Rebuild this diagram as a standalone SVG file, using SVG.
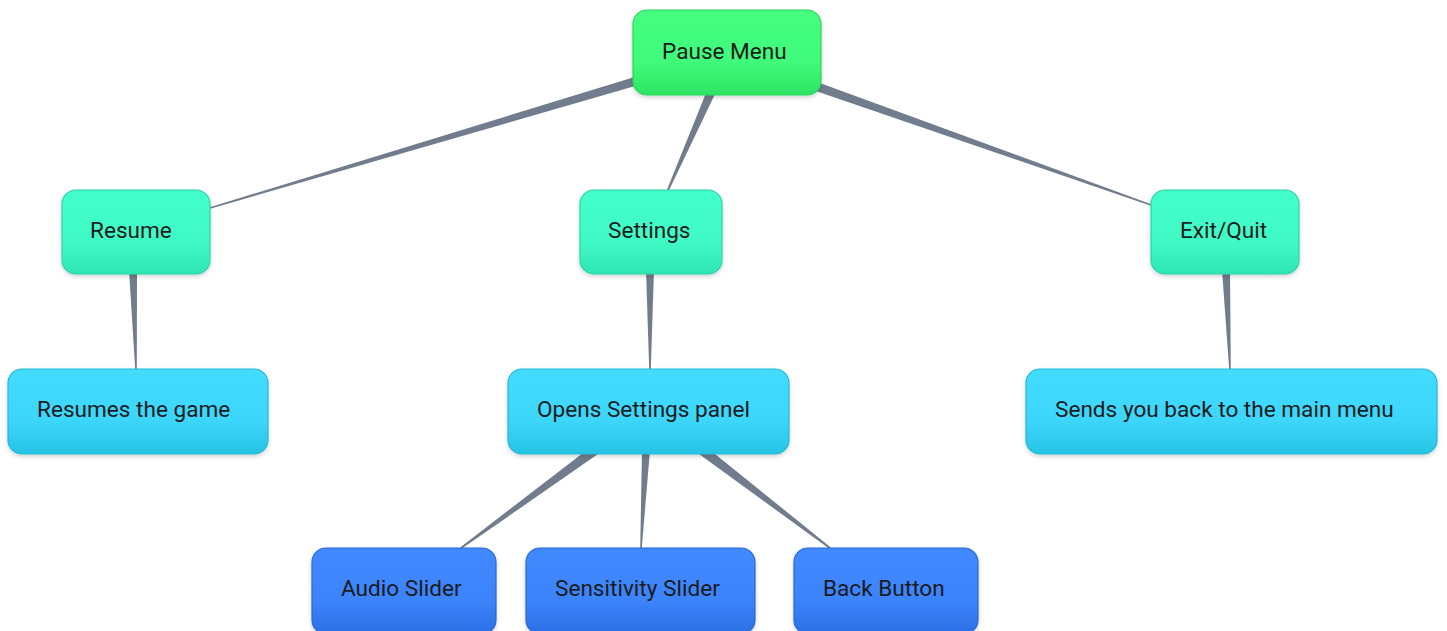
<svg xmlns="http://www.w3.org/2000/svg" width="1447" height="631" viewBox="0 0 1447 631">
  <defs>
    <linearGradient id="gGreen" x1="0" y1="0" x2="0" y2="1">
      <stop offset="0" stop-color="#45ff80"/>
      <stop offset="0.6" stop-color="#40fa7b"/>
      <stop offset="1" stop-color="#2de463"/>
    </linearGradient>
    <linearGradient id="gTeal" x1="0" y1="0" x2="0" y2="1">
      <stop offset="0" stop-color="#44ffcb"/>
      <stop offset="0.6" stop-color="#40fac6"/>
      <stop offset="1" stop-color="#2ee6b4"/>
    </linearGradient>
    <linearGradient id="gCyan" x1="0" y1="0" x2="0" y2="1">
      <stop offset="0" stop-color="#42dcff"/>
      <stop offset="0.6" stop-color="#3dd6fb"/>
      <stop offset="1" stop-color="#25c3e4"/>
    </linearGradient>
    <linearGradient id="gBlue" x1="0" y1="0" x2="0" y2="1">
      <stop offset="0" stop-color="#4189ff"/>
      <stop offset="0.6" stop-color="#3d84fb"/>
      <stop offset="1" stop-color="#2a6fe4"/>
    </linearGradient>
    <filter id="shadow" x="-10%" y="-10%" width="120%" height="130%">
      <feDropShadow dx="0" dy="2" stdDeviation="2" flood-color="#000" flood-opacity="0.18"/>
    </filter>
  </defs>
  <style>
    .node rect { rx: 14px; ry: 14px; filter: url(#shadow); stroke-width: 1.2; }
    .green rect { fill: url(#gGreen); stroke: #2cd45e; }
    .teal rect { fill: url(#gTeal); stroke: #2cd4a6; }
    .cyan rect { fill: url(#gCyan); stroke: #27b8d6; }
    .blue rect { fill: url(#gBlue); stroke: #2a68d6; }
    .node text { font-family: Roboto, "Liberation Sans", sans-serif; font-size: 22.6px; fill: #1b1b1b; }
    .link { fill: #717c8c; }
  </style>

  <!-- tapered connectors: wide at the parent, thin at the child -->
  <g id="connectors">
    <polygon class="link" points="638.7,75.7 209.8,207.3 210.2,208.7 641.3,84.3"/>
    <polygon class="link" points="707.9,88.2 667.1,189.6 668.9,190.4 716.1,91.8"/>
    <polygon class="link" points="813.5,90.2 1150.8,205.7 1151.3,204.3 816.5,81.8"/>
    <polygon class="link" points="129,270 135.2,369 136.8,369 137,270"/>
    <polygon class="link" points="646,270 649.2,369 650.8,369 654,270"/>
    <polygon class="link" points="1222,270 1229.2,369 1230.8,369 1230,270"/>
    <polygon class="link" points="592.1,446 460.4,547.2 461.6,548.8 598,454"/>
    <polygon class="link" points="642,450 640.2,548 641.8,548 650,450"/>
    <polygon class="link" points="699,454 829.4,548.8 830.6,547.2 705,446"/>
  </g>

  <g id="pause-menu" class="node green">
    <rect x="633" y="10" width="188" height="85"/>
    <text x="662" y="58.5">Pause Menu</text>
  </g>

  <g id="resume" class="node teal">
    <rect x="62" y="190" width="148" height="84"/>
    <text x="90" y="238">Resume</text>
  </g>
  <g id="settings" class="node teal">
    <rect x="580" y="190" width="142" height="84"/>
    <text x="608" y="238">Settings</text>
  </g>
  <g id="exit-quit" class="node teal">
    <rect x="1151" y="190" width="148" height="84"/>
    <text x="1180" y="238">Exit/Quit</text>
  </g>

  <g id="resumes-game" class="node cyan">
    <rect x="8" y="369" width="260" height="85"/>
    <text x="37" y="417">Resumes the game</text>
  </g>
  <g id="opens-settings" class="node cyan">
    <rect x="508" y="369" width="281" height="85"/>
    <text x="537" y="417">Opens Settings panel</text>
  </g>
  <g id="back-to-main" class="node cyan">
    <rect x="1026" y="369" width="411" height="85"/>
    <text x="1055" y="417">Sends you back to the main menu</text>
  </g>

  <g id="audio-slider" class="node blue">
    <rect x="312" y="548" width="184" height="86"/>
    <text x="341" y="596">Audio Slider</text>
  </g>
  <g id="sensitivity-slider" class="node blue">
    <rect x="526" y="548" width="229" height="86"/>
    <text x="555" y="596">Sensitivity Slider</text>
  </g>
  <g id="back-button" class="node blue">
    <rect x="794" y="548" width="184" height="86"/>
    <text x="823" y="596">Back Button</text>
  </g>
</svg>
